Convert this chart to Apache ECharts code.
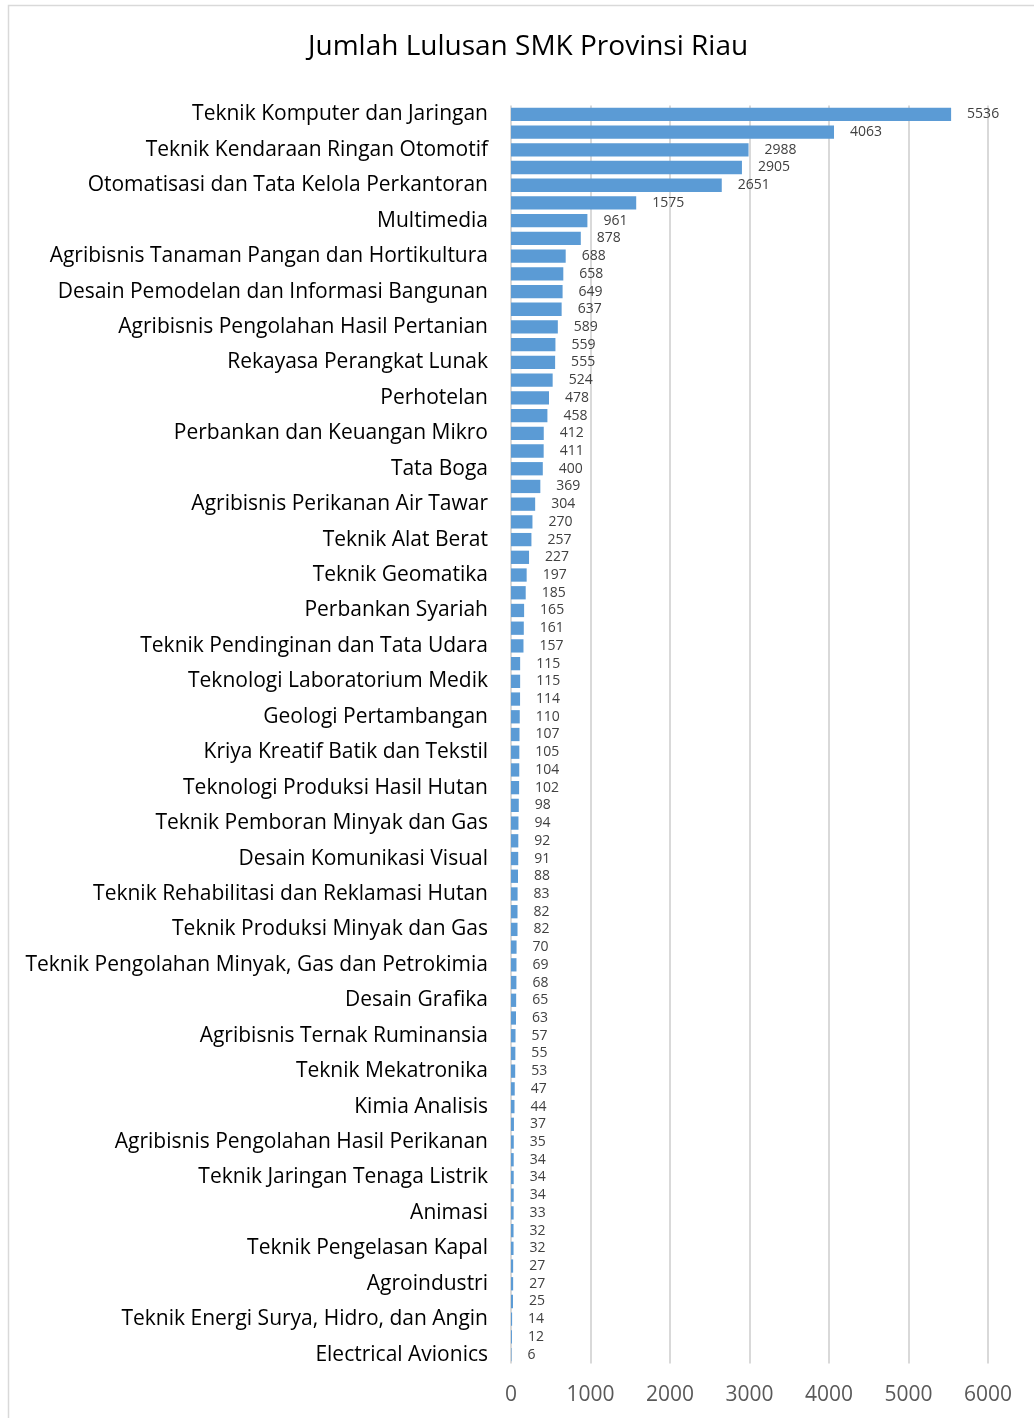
<!DOCTYPE html>
<html>
<head>
<meta charset="utf-8">
<script src="https://cdn.jsdelivr.net/npm/echarts@6/dist/echarts.min.js"></script>
<style>
html,body{margin:0;padding:0;background:#fff;}
#chart{width:1034px;height:1418px;}
</style>
</head>
<body>
<div id="chart"></div>
<script>
const chartTitle = "Jumlah Lulusan SMK Provinsi Riau";

// Program keahlian (top to bottom). Only every other name is printed in the reference.
const categories = [
  "Teknik Komputer dan Jaringan",
  "Akuntansi dan Keuangan Lembaga",
  "Teknik Kendaraan Ringan Otomotif",
  "Bisnis Daring dan Pemasaran",
  "Otomatisasi dan Tata Kelola Perkantoran",
  "Teknik dan Bisnis Sepeda Motor",
  "Multimedia",
  "Teknik Instalasi Tenaga Listrik",
  "Agribisnis Tanaman Pangan dan Hortikultura",
  "Teknik Pemesinan",
  "Desain Pemodelan dan Informasi Bangunan",
  "Keperawatan",
  "Agribisnis Pengolahan Hasil Pertanian",
  "Agribisnis Tanaman Perkebunan",
  "Rekayasa Perangkat Lunak",
  "Farmasi Klinis dan Komunitas",
  "Perhotelan",
  "Teknik Pengelasan",
  "Perbankan dan Keuangan Mikro",
  "Tata Busana",
  "Tata Boga",
  "Teknik Audio Video",
  "Agribisnis Perikanan Air Tawar",
  "Teknik Elektronika Industri",
  "Teknik Alat Berat",
  "Usaha Perjalanan Wisata",
  "Teknik Geomatika",
  "Bisnis Konstruksi dan Properti",
  "Perbankan Syariah",
  "Teknik Kimia Industri",
  "Teknik Pendinginan dan Tata Udara",
  "Agribisnis Ternak Unggas",
  "Teknologi Laboratorium Medik",
  "Teknik Konstruksi Batu dan Beton",
  "Geologi Pertambangan",
  "Tata Kecantikan Kulit dan Rambut",
  "Kriya Kreatif Batik dan Tekstil",
  "Teknik Otomasi Industri",
  "Teknologi Produksi Hasil Hutan",
  "Nautika Kapal Penangkap Ikan",
  "Teknik Pemboran Minyak dan Gas",
  "Teknika Kapal Penangkap Ikan",
  "Desain Komunikasi Visual",
  "Kesehatan Hewan",
  "Teknik Rehabilitasi dan Reklamasi Hutan",
  "Teknik Bodi Otomotif",
  "Teknik Produksi Minyak dan Gas",
  "Teknik Fabrikasi Logam dan Manufaktur",
  "Teknik Pengolahan Minyak, Gas dan Petrokimia",
  "Teknik Jaringan Akses Telekomunikasi",
  "Desain Grafika",
  "Agribisnis Rumput Laut",
  "Agribisnis Ternak Ruminansia",
  "Teknik Mekanik Industri",
  "Teknik Mekatronika",
  "Produksi Film dan Program Televisi",
  "Kimia Analisis",
  "Nautika Kapal Niaga",
  "Agribisnis Pengolahan Hasil Perikanan",
  "Teknika Kapal Niaga",
  "Teknik Jaringan Tenaga Listrik",
  "Spa dan Beauty Therapy",
  "Animasi",
  "Teknik Pembangkit Tenaga Listrik",
  "Teknik Pengelasan Kapal",
  "Agribisnis Perbenihan dan Kultur Jaringan Tanaman",
  "Agroindustri",
  "Teknik Logistik",
  "Teknik Energi Surya, Hidro, dan Angin",
  "Teknik Inventarisasi dan Pemetaan Hutan",
  "Electrical Avionics"
];

const lulusan = [
  5536, 4063, 2988, 2905, 2651, 1575, 961, 878, 688, 658,
  649, 637, 589, 559, 555, 524, 478, 458, 412, 411,
  400, 369, 304, 270, 257, 227, 197, 185, 165, 161,
  157, 115, 115, 114, 110, 107, 105, 104, 102, 98,
  94, 92, 91, 88, 83, 82, 82, 70, 69, 68,
  65, 63, 57, 55, 53, 47, 44, 37, 35, 34,
  34, 34, 33, 32, 32, 27, 27, 25, 14, 12,
  6
];

const xTicks = { min: 0, max: 6000, interval: 1000 };

const FONT = "'Open Sans', sans-serif";
const chart = echarts.init(document.getElementById('chart'), null, { renderer: 'canvas' });

chart.setOption({
  animation: false,
  backgroundColor: '#ffffff',
  textStyle: { fontFamily: FONT },
  title: {
    text: chartTitle,
    left: 303,
    top: 28,
    textStyle: { fontFamily: FONT, fontSize: 28, fontWeight: 'normal', color: '#000000' }
  },
  graphic: [{
    type: 'rect',
    shape: { x: 8.5, y: 5.5, width: 1100, height: 1500 },
    style: { fill: 'none', stroke: '#d9d9d9', lineWidth: 1.5 },
    silent: true
  }],
  grid: { left: 511, right: 46, top: 105.5, bottom: 54.5, containLabel: false },
  xAxis: {
    type: 'value',
    min: xTicks.min, max: xTicks.max, interval: xTicks.interval,
    axisLine: { show: false },
    axisTick: { show: false },
    splitLine: { show: true, lineStyle: { color: '#d9d9d9', width: 2 } },
    axisLabel: { color: '#595959', fontSize: 21, fontFamily: FONT, margin: 21,
      formatter: function (v) { return String(v); } }
  },
  yAxis: {
    type: 'category',
    inverse: true,
    data: categories,
    axisLine: { show: false },
    axisTick: { show: false },
    axisLabel: { interval: 1, color: '#000000', fontSize: 21, fontFamily: FONT, margin: 23 }
  },
  series: [{
    type: 'bar',
    data: lulusan,
    barCategoryGap: '25%',
    itemStyle: { color: '#5b9bd5' },
    label: {
      show: true,
      position: 'right',
      distance: 16,
      color: '#404040',
      fontSize: 14,
      fontFamily: FONT
    }
  }]
});
</script>
</body>
</html>
